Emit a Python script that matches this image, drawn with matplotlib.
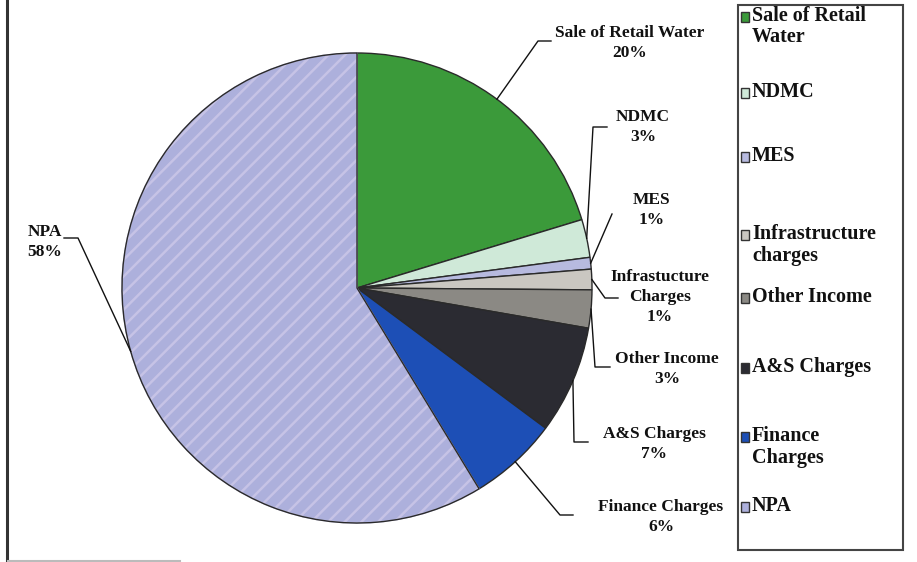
import matplotlib
matplotlib.use('Agg')
import numpy as np
import matplotlib.pyplot as plt
from matplotlib.patches import Wedge, Rectangle

# revenue shares (%)
labels = ['Sale of Retail Water', 'NDMC', 'MES', 'Infrastucture\nCharges',
          'Other Income', 'A&S Charges', 'Finance Charges', 'NPA']
legend_labels = ['Sale of Retail\nWater', 'NDMC', 'MES', 'Infrastructure\ncharges',
                 'Other Income', 'A&S Charges', 'Finance\nCharges', 'NPA']
values = [20.2, 2.6, 0.8, 1.4, 2.6, 7.4, 6.1, 58.4]
colors = ['#3b9a3a', '#cfe9d8', '#b7badf', '#cac7c1', '#8b8984',
          '#2b2b32', '#1d4fb6', '#adb0dc']

W, H = 917, 562
plt.rcParams['hatch.linewidth'] = 1.8
serif = ['Liberation Serif', 'DejaVu Serif']


def fy(y):
    # top-down pixel row -> axes y
    return H - y


fig = plt.figure(figsize=(W / 100, H / 100), dpi=100)
ax = fig.add_axes([0, 0, 1, 1])

cx, cy, R = 357, fy(288), 235
wedges, _ = ax.pie(values, colors=colors, startangle=90, counterclock=False,
                   center=(cx, cy), radius=R,
                   wedgeprops=dict(edgecolor='#2a2a2a', linewidth=1.0))

# striped fill on the NPA slice: hatch takes the edge colour, so re-draw the outline on top
npa = wedges[-1]
npa.set_hatch('//')
npa.set_edgecolor('#c6c3e6')
ax.add_patch(Wedge(npa.center, npa.r, npa.theta1, npa.theta2, fill=False,
                   edgecolor='#2a2a2a', linewidth=1.0, zorder=3))

# label text centre (x, middle y), elbow and end of the leader's horizontal bit
text_pos = [(630, 43), (643, 127), (652, 210), (660, 297),
            (667, 369), (654, 444), (661, 517), (45, 242)]
elbows = [(538, 41), (593, 127), (612, 214), (605, 298),
          (595, 367), (574, 442), (560, 515), (78, 238)]
ends = [(551, 41), (607, 127), (612, 214), (618, 298),
        (610, 367), (588, 442), (573, 515), (64, 238)]

for w, lab, v, tp, el, en in zip(wedges, labels, values, text_pos, elbows, ends):
    mid = np.deg2rad((w.theta1 + w.theta2) / 2)
    ex, ey = cx + R * np.cos(mid), cy + R * np.sin(mid)
    ax.plot([ex, el[0], en[0]], [ey, fy(el[1]), fy(en[1])],
            color='#111111', lw=1.0, zorder=4)
    ax.text(tp[0], fy(tp[1]), f'{lab}\n{round(v)}%', ha='center', va='center',
            family=serif, fontweight='bold', fontsize=12.5, linespacing=1.3,
            color='#111111', zorder=5)

# legend box
ax.add_patch(Rectangle((738, fy(550)), 165, 545, fill=False,
                       edgecolor='#444444', lw=1.5, zorder=4))
leg_y = [17, 93, 157, 235, 298, 368, 437, 507]
for lab, col, y in zip(legend_labels, colors, leg_y):
    ax.add_patch(Rectangle((741, fy(y) - 5), 8, 10, facecolor=col,
                           edgecolor='#333333', lw=1.0, zorder=5))
    ax.text(752, fy(y) + 11, lab, ha='left', va='top', family=serif,
            fontweight='bold', fontsize=14.5, linespacing=1.1,
            color='#111111', zorder=5)

# outer frame bits
ax.plot([7, 7], [0, H], color='#333333', lw=2.2)
ax.plot([8, 180], [1.5, 1.5], color='#bbbbbb', lw=1.5)

ax.set_xlim(0, W)
ax.set_ylim(0, H)
ax.set_aspect('auto')
ax.axis('off')

fig.savefig('out.png', dpi=100)
